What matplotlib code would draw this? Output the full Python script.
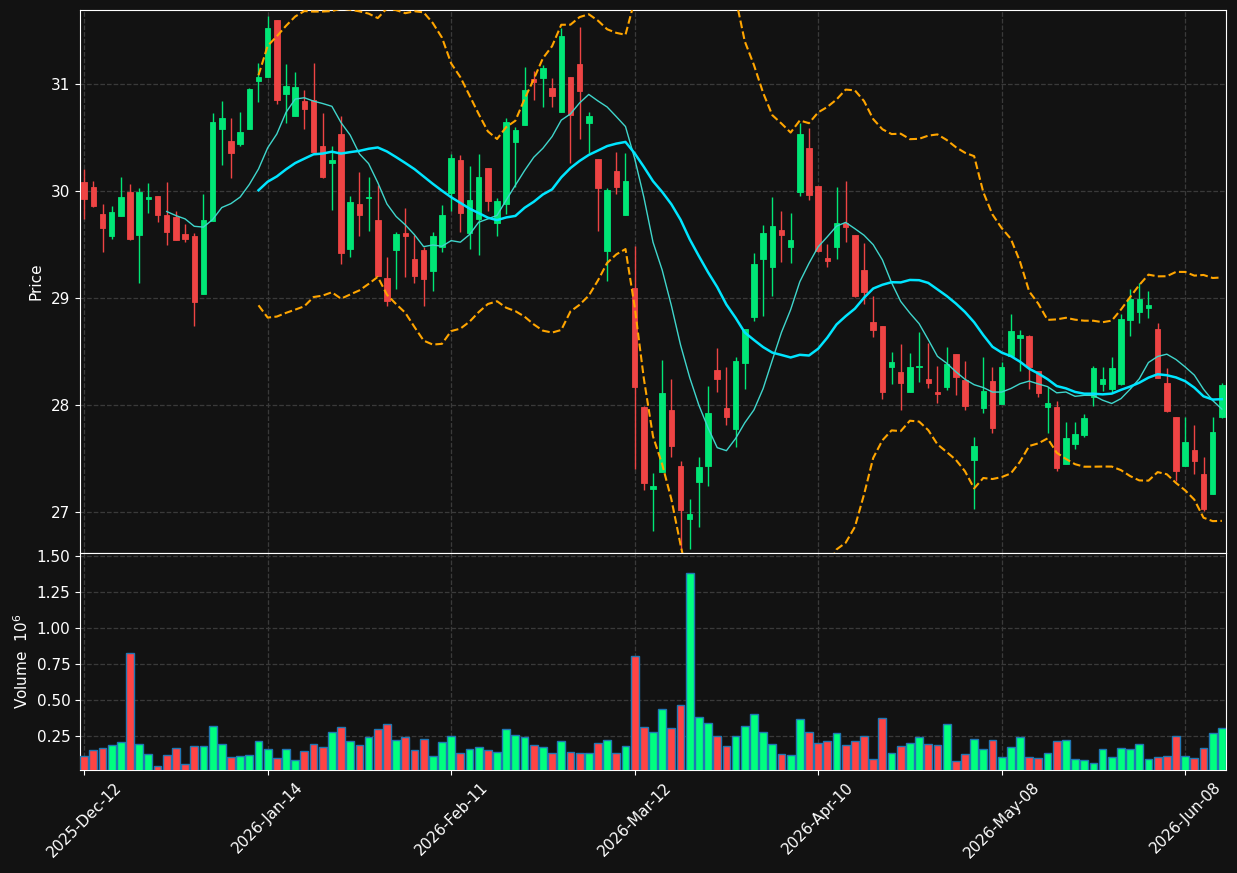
import numpy as np
import pandas as pd
import matplotlib
matplotlib.use("Agg")
import matplotlib.pyplot as plt

# OHLC, one trading day per entry
opens = [30.087, 30.037, 29.785, 29.582, 29.769, 29.991, 29.592, 29.925, 29.953, 29.776,
         29.757, 29.598, 29.579, 29.040, 29.722, 30.577, 30.467, 30.439, 30.582, 31.031,
         31.068, 31.598, 30.909, 30.704, 30.841, 30.850, 30.421, 30.264, 30.533, 29.461,
         29.879, 29.930, 29.729, 29.187, 29.451, 29.607, 29.364, 29.449, 29.255, 29.477,
         29.978, 30.290, 29.610, 29.738, 30.215, 29.704, 29.879, 30.461, 30.617, 31.047,
         31.059, 30.963, 30.741, 31.065, 31.190, 30.638, 30.299, 29.442, 30.187, 29.779,
         29.096, 27.984, 27.218, 27.377, 27.953, 27.430, 26.935, 27.283, 27.430, 28.327,
         27.969, 27.776, 28.395, 28.825, 29.362, 29.293, 29.636, 29.474, 29.994, 30.402,
         30.047, 29.374, 29.480, 29.698, 29.589, 29.262, 28.776, 28.738, 28.355, 28.308,
         28.124, 28.350, 28.240, 28.121, 28.171, 28.477, 28.234, 27.486, 27.975, 28.227,
         28.009, 28.458, 28.626, 28.645, 28.318, 27.984, 27.984, 27.451, 27.636, 27.720,
         28.072, 28.199, 28.147, 28.196, 28.794, 28.869, 28.910, 28.710, 28.206, 27.891,
         27.433, 27.579, 27.355, 27.165, 27.885]
highs = [30.206, 30.091, 29.879, 29.857, 30.128, 30.063, 30.025, 30.072, 29.955, 30.081,
         29.813, 29.689, 29.605, 29.969, 30.726, 30.841, 30.679, 30.736, 30.960, 31.193,
         31.636, 31.600, 31.184, 31.112, 30.941, 31.193, 30.726, 30.421, 30.701, 29.953,
         30.175, 30.128, 30.056, 29.380, 29.617, 29.838, 29.586, 29.477, 29.617, 29.866,
         30.346, 30.333, 30.231, 30.346, 30.217, 29.935, 30.680, 30.601, 31.162, 31.124,
         31.178, 31.053, 31.521, 31.067, 31.530, 30.741, 30.301, 30.031, 30.367, 30.352,
         29.486, 27.986, 27.362, 28.421, 28.243, 27.477, 27.119, 27.517, 28.178, 28.530,
         28.352, 28.451, 28.712, 29.423, 29.682, 29.947, 29.813, 29.791, 30.638, 30.586,
         30.050, 29.502, 30.035, 30.093, 29.590, 29.511, 29.019, 28.740, 28.495, 28.567,
         28.483, 28.685, 28.577, 28.364, 28.539, 28.480, 28.414, 27.698, 28.446, 28.352,
         28.402, 28.850, 28.701, 28.654, 28.320, 28.171, 28.037, 27.838, 27.838, 27.916,
         28.364, 28.352, 28.452, 28.850, 29.081, 29.137, 29.063, 28.764, 28.343, 27.891,
         27.885, 27.813, 27.517, 27.885, 28.203]
lows = [29.736, 29.848, 29.433, 29.549, 29.769, 29.542, 29.137, 29.792, 29.713, 29.495,
        29.545, 29.526, 28.736, 29.040, 29.722, 30.243, 30.121, 30.415, 30.580, 30.829,
        31.068, 30.810, 30.633, 30.704, 30.577, 30.364, 30.119, 29.822, 29.318, 29.380,
        29.582, 29.623, 29.206, 28.925, 29.081, 29.193, 29.143, 28.925, 29.068, 29.427,
        29.813, 29.614, 29.455, 29.400, 29.813, 29.582, 29.782, 30.040, 30.615, 30.850,
        30.782, 30.782, 30.740, 30.259, 30.483, 30.358, 29.623, 29.159, 29.975, 29.779,
        27.399, 27.206, 26.822, 27.377, 27.517, 26.650, 26.658, 26.863, 27.246, 28.125,
        27.813, 27.610, 28.147, 28.785, 28.835, 29.019, 29.334, 29.324, 29.953, 29.916,
        29.430, 29.293, 29.362, 29.526, 29.012, 28.941, 28.638, 28.059, 28.193, 27.953,
        28.124, 28.218, 28.156, 28.022, 28.140, 28.093, 27.953, 27.025, 27.922, 27.735,
        28.009, 28.456, 28.315, 28.147, 28.078, 27.741, 27.383, 27.450, 27.586, 27.698,
        27.993, 28.134, 28.121, 28.190, 28.645, 28.763, 28.816, 28.255, 27.938, 27.293,
        27.433, 27.352, 27.007, 27.165, 27.880]
closes = [29.925, 29.863, 29.657, 29.801, 29.944, 29.554, 29.991, 29.940, 29.779, 29.620,
          29.545, 29.554, 28.965, 29.726, 30.648, 30.679, 30.358, 30.551, 30.953, 31.065,
          31.523, 30.853, 30.981, 30.972, 30.769, 30.364, 30.134, 30.290, 29.424, 29.897,
          29.779, 29.944, 29.206, 28.975, 29.598, 29.582, 29.209, 29.178, 29.579, 29.776,
          30.308, 29.797, 29.916, 30.131, 29.909, 29.907, 30.640, 30.570, 30.944, 31.019,
          31.152, 30.891, 31.449, 30.713, 30.937, 30.701, 30.028, 30.009, 30.040, 30.093,
          28.171, 27.274, 27.243, 28.109, 27.620, 27.019, 26.981, 27.423, 27.922, 28.246,
          27.891, 28.411, 28.707, 29.318, 29.605, 29.673, 29.586, 29.542, 30.533, 29.965,
          29.439, 29.349, 29.698, 29.666, 29.021, 29.059, 28.704, 28.124, 28.399, 28.209,
          28.352, 28.365, 28.203, 28.106, 28.383, 28.265, 27.993, 27.617, 28.131, 27.788,
          28.355, 28.692, 28.654, 28.352, 28.115, 28.016, 27.414, 27.692, 27.729, 27.881,
          28.349, 28.243, 28.346, 28.804, 28.993, 28.993, 28.937, 28.255, 27.944, 27.383,
          27.654, 27.479, 27.031, 27.748, 28.187]
# volume in millions
volumes = [0.108, 0.153, 0.167, 0.188, 0.208, 0.826, 0.194, 0.125, 0.039, 0.118,
           0.167, 0.056, 0.181, 0.181, 0.319, 0.194, 0.104, 0.111, 0.118, 0.215,
           0.160, 0.097, 0.160, 0.083, 0.146, 0.194, 0.174, 0.278, 0.313, 0.215,
           0.188, 0.243, 0.299, 0.333, 0.222, 0.243, 0.153, 0.229, 0.111, 0.208,
           0.250, 0.132, 0.160, 0.174, 0.153, 0.139, 0.299, 0.257, 0.243, 0.188,
           0.174, 0.132, 0.215, 0.139, 0.132, 0.132, 0.201, 0.222, 0.132, 0.181,
           0.806, 0.313, 0.278, 0.438, 0.306, 0.465, 1.382, 0.382, 0.340, 0.250,
           0.181, 0.250, 0.319, 0.403, 0.278, 0.194, 0.125, 0.118, 0.368, 0.278,
           0.201, 0.215, 0.271, 0.188, 0.215, 0.250, 0.090, 0.375, 0.132, 0.181,
           0.201, 0.243, 0.194, 0.188, 0.333, 0.076, 0.125, 0.229, 0.160, 0.222,
           0.104, 0.174, 0.243, 0.104, 0.097, 0.132, 0.215, 0.222, 0.090, 0.083,
           0.063, 0.160, 0.104, 0.167, 0.160, 0.194, 0.090, 0.104, 0.111, 0.250,
           0.111, 0.097, 0.167, 0.271, 0.306]
tick_labels = ['2025-Dec-12', '2026-Jan-14', '2026-Feb-11', '2026-Mar-12',
               '2026-Apr-10', '2026-May-08', '2026-Jun-08']

bg = '#121212'
up_c, down_c = '#00e676', '#ee4444'
vup_c, vdown_c = '#00ff7f', '#ff4444'

o = np.array(opens); h = np.array(highs); l = np.array(lows); c = np.array(closes)
v = np.array(volumes)
x = np.arange(len(c))
up = c >= o

close_s = pd.Series(c)
ma10 = close_s.rolling(10).mean()
ma20 = close_s.rolling(20).mean()
sd20 = close_s.rolling(20).std()
bb_up = ma20 + 2 * sd20
bb_lo = ma20 - 2 * sd20

fig = plt.figure(figsize=(12.37, 8.73), dpi=100, facecolor=bg)
ax = fig.add_axes([0.0647, 0.3666, 0.9264, 0.6219], facecolor=bg)
axv = fig.add_axes([0.0647, 0.1180, 0.9264, 0.2486], facecolor=bg, sharex=ax)

# candles
cols = np.where(up, up_c, down_c)
ax.vlines(x, l, h, colors=cols, linewidth=1, zorder=2)
ax.bar(x, c - o, bottom=o, width=0.6, color=cols, edgecolor=cols, linewidth=0.6, zorder=3)

# moving averages + bollinger
ax.plot(x, ma10, color='#3fd6cc', linewidth=1, zorder=4)
ax.plot(x, ma20, color='#00e5ff', linewidth=1.8, zorder=4)
ax.plot(x, bb_up, color='orange', linestyle='--', linewidth=1.5, zorder=4)
ax.plot(x, bb_lo, color='orange', linestyle='--', linewidth=1.5, zorder=4)

# volume
vcols = np.where(up, vup_c, vdown_c)
axv.bar(x, v, width=0.85, color=vcols, edgecolor='#1f77b4', linewidth=1, zorder=3)

ax.set_xlim(-0.45, len(c) - 0.55)
ax.set_ylim(26.617, 31.69)
axv.set_ylim(0.3 * v.min(), 1.1 * v.max())

ax.set_yticks([27, 28, 29, 30, 31])
axv.set_yticks([0.25, 0.5, 0.75, 1.0, 1.25, 1.5])
axv.set_yticklabels(['0.25', '0.50', '0.75', '1.00', '1.25', '1.50'])
ticks = list(range(0, len(c), 20))
axv.set_xticks(ticks)
axv.set_xticklabels(tick_labels, rotation=45, ha='center')
plt.setp(ax.get_xticklabels(), visible=False)

for a in (ax, axv):
    a.grid(True, linestyle='--', color='#3a3a3a', linewidth=0.9, zorder=0)
    a.set_axisbelow(True)
    for s in a.spines.values():
        s.set_color('white')
    a.tick_params(colors='white', labelsize=11)
ax.tick_params(axis='x', length=0)

ax.set_ylabel('Price', color='white', fontsize=11)
axv.set_ylabel('Volume  $10^{6}$', color='white', fontsize=11)
ax.yaxis.set_label_coords(-0.032, 0.5)
axv.yaxis.set_label_coords(-0.043, 0.5)

fig.savefig('out.png', dpi=100, facecolor=bg)
